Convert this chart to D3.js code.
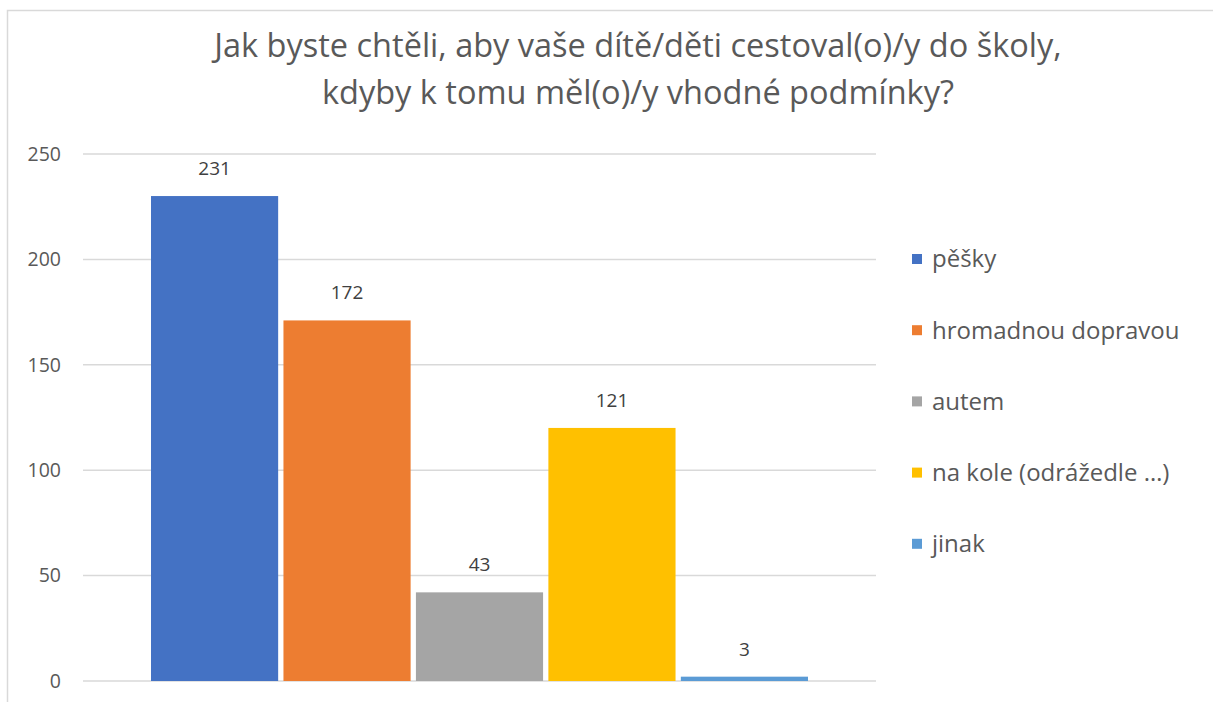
<!DOCTYPE html>
<html>
<head>
<meta charset="utf-8">
<script src="https://cdn.jsdelivr.net/npm/d3@7"></script>
<style>
  body { margin: 0; background: #fff; }
  text { font-family: "Open Sans", "Noto Sans", sans-serif; }
</style>
</head>
<body>
<svg id="chart"></svg>
<script>
var width = 1213; // size of the whole picture
var height = 702;

// chart data
var seriesNames = ["pěšky", "hromadnou dopravou", "autem", "na kole (odrážedle …)", "jinak"];
var seriesValues = [231, 172, 43, 121, 3];
var seriesColors = ["#4472C4", "#ED7D31", "#A5A5A5", "#FFC000", "#5B9BD5"];
var yTicks = [0, 50, 100, 150, 200, 250];
var titleLines = ["Jak byste chtěli, aby vaše dítě/děti cestoval(o)/y do školy,", "kdyby k tomu měl(o)/y vhodné podmínky?"];

var plotLeft = 83, plotRight = 876;
var plotTop = 154, plotBottom = 681;

var svg = d3.select("#chart")
    .attr("width", width)
    .attr("height", height);

// chart frame
svg.append("rect")
    .attr("x", 7.5)
    .attr("y", 10.5)
    .attr("width", width + 20)
    .attr("height", height + 20)
    .attr("fill", "#fff")
    .attr("stroke", "#D9D9D9")
    .attr("stroke-width", 1.5);

// scales
var y = d3.scaleLinear().domain([0, 250]).range([plotBottom, plotTop]);
var x = d3.scaleBand()
    .domain(seriesNames)
    .range([151, 808])
    .paddingInner(0.04)
    .paddingOuter(0);

// gridlines
svg.append("g")
    .selectAll("line")
    .data(yTicks)
    .enter().append("line")
    .attr("x1", plotLeft)
    .attr("x2", plotRight)
    .attr("y1", function(d) { return y(d); })
    .attr("y2", function(d) { return y(d); })
    .attr("stroke", "#D9D9D9")
    .attr("stroke-width", 1.5);

// y axis labels
var yAxis = d3.axisLeft(y).tickValues(yTicks).tickSize(0).tickPadding(0);
var gy = svg.append("g")
    .attr("transform", "translate(61,0)")
    .call(yAxis);
gy.select(".domain").remove();
gy.selectAll("text")
    .attr("fill", "#595959")
    .style("font-size", "19.5px")
    .style("font-family", "'Open Sans', sans-serif");

// bars (Excel draws them a hair below the gridline scale)
svg.append("g")
    .selectAll("rect")
    .data(seriesValues)
    .enter().append("rect")
    .attr("x", function(d, i) { return x(seriesNames[i]); })
    .attr("y", function(d) { return y(d) + 2; })
    .attr("width", x.bandwidth())
    .attr("height", function(d) { return Math.max(0, y(0) - y(d) - 2); })
    .attr("fill", function(d, i) { return seriesColors[i]; });

// data labels
svg.append("g")
    .selectAll("text")
    .data(seriesValues)
    .enter().append("text")
    .attr("x", function(d, i) { return x(seriesNames[i]) + x.bandwidth() / 2; })
    .attr("y", function(d) { return y(d) - 19; })
    .attr("text-anchor", "middle")
    .attr("fill", "#404040")
    .style("font-size", "19px")
    .text(function(d) { return d; });

// title
svg.append("g")
    .selectAll("text")
    .data(titleLines)
    .enter().append("text")
    .attr("x", 638)
    .attr("y", function(d, i) { return 57 + i * 47; })
    .attr("text-anchor", "middle")
    .attr("fill", "#595959")
    .style("font-size", "32.5px")
    .text(function(d) { return d; });

// legend
var legend = svg.append("g")
    .selectAll("g")
    .data(seriesNames)
    .enter().append("g")
    .attr("transform", function(d, i) { return "translate(912," + (259 + i * 71.2) + ")"; });

legend.append("rect")
    .attr("x", 0)
    .attr("y", -5)
    .attr("width", 10)
    .attr("height", 10)
    .attr("fill", function(d, i) { return seriesColors[i]; });

legend.append("text")
    .attr("x", 20)
    .attr("y", 0)
    .attr("dy", "0.35em")
    .attr("fill", "#595959")
    .style("font-size", "24px")
    .text(function(d) { return d; });
</script>
</body>
</html>
